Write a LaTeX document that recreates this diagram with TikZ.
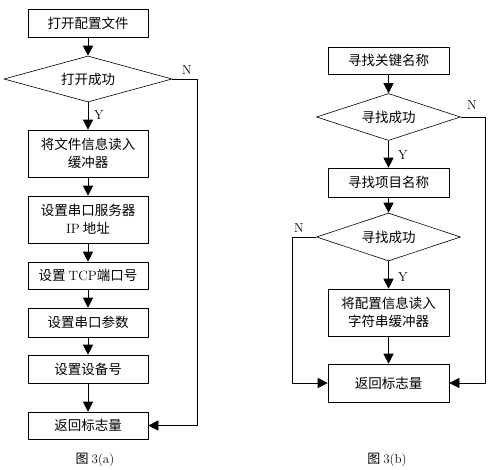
\documentclass[tikz,border=0pt]{standalone}
\usepackage{fontspec}
\newfontfamily\cjk{Noto Sans CJK SC}
\usetikzlibrary{shapes.geometric,arrows.meta}
\tikzset{
	box/.style={draw,semithick,minimum width=120pt,minimum height=28pt,inner sep=0pt,align=center,
		font=\cjk\fontsize{13.5}{18}\selectfont},
	test/.style={draw,semithick,diamond,aspect=3.5,inner sep=0pt,font=\cjk\fontsize{13.5}{18}\selectfont},
	arr/.style={semithick,-{Triangle[width=10pt,length=10pt]}},
	yn/.style={font=\fontsize{13}{15}\selectfont},
	figcap/.style={font=\cjk\fontsize{13}{15}\selectfont}
}
\begin{document}
\begin{tikzpicture}[x=1pt,y=-1pt]
		\useasboundingbox (0,0) rectangle (500,469);
		% figure 3(a)
		\node[box] (open) at (88,23) {打开配置文件};
		\node[test,minimum width=168pt,minimum height=46pt] (ok) at (88,79) {打开成功};
		\node[box,minimum height=47pt] (read) at (88,153.5) {将文件信息读入\\缓冲器};
		\node[box,minimum height=47pt] (ip) at (88,219.5) {设置串口服务器\\{\rmfamily IP} 地址};
		\node[box,minimum height=27pt] (tcp) at (88,275.5) {设置 {\rmfamily TCP}端口号};
		\node[box,minimum height=29pt] (par) at (88,322.5) {设置串口参数};
		\node[box] (dev) at (88,369) {设置设备号};
		\node[box,minimum height=27pt] (flag) at (88,425.5) {返回标志量};
		\draw[arr] (open) -- (ok);
		\draw[arr] (ok) -- (read);
		\draw[arr] (read) -- (ip);
		\draw[arr] (ip) -- (tcp);
		\draw[arr] (tcp) -- (par);
		\draw[arr] (par) -- (dev);
		\draw[arr] (dev) -- (flag);
		\coordinate (nA) at (197,79);
		\draw[arr] (ok.east) -- (nA) |- (flag.east);
		\node[yn] (yA) at (99,115) {Y}; \node[yn] (nlA) at (187,70) {N};
		\node[figcap] (capA) at (95,460) {图\ {\rmfamily 3(a)}};
		% figure 3(b)
		\node[box,minimum width=121pt,minimum height=27pt] (key) at (388.5,60.5) {寻找关键名称};
		\node[test,minimum width=144pt,minimum height=47pt] (okK) at (388.5,117) {寻找成功};
		\node[box,minimum width=121pt,minimum height=29pt] (item) at (388.5,182.5) {寻找项目名称};
		\node[test,minimum width=144pt,minimum height=48pt] (okI) at (388.5,237) {寻找成功};
		\node[box,minimum width=121pt,minimum height=47pt] (str) at (388.5,312.5) {将配置信息读入\\字符串缓冲器};
		\node[box,minimum width=121pt,minimum height=38pt] (flagB) at (388.5,383) {返回标志量};
		\draw[arr] (key) -- (okK);
		\draw[arr] (okK) -- (item);
		\draw[arr] (item) -- (okI);
		\draw[arr] (okI) -- (str);
		\draw[arr] (str) -- (flagB);
		\coordinate (nR) at (485,117); \coordinate (nL) at (292,237);
		\draw[arr] (okK.east) -- (nR) |- (flagB.east);
		\draw[arr] (okI.west) -- (nL) |- (flagB.west);
		\node[yn] (yK) at (403,155) {Y}; \node[yn] (nK) at (472,105) {N};
		\node[yn] (yI) at (403,277) {Y}; \node[yn] (nI) at (299,228) {N};
		\node[figcap] (capB) at (387,460) {图\ {\rmfamily 3(b)}};
	\end{tikzpicture}
\end{document}
